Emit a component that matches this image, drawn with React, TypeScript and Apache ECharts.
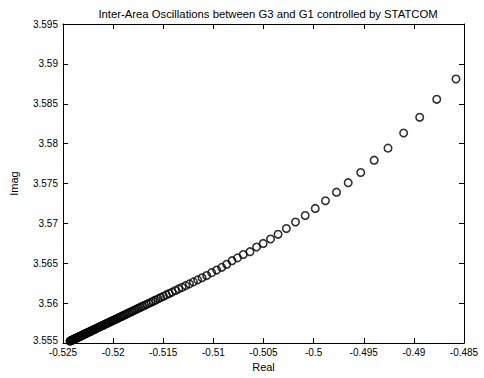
import React, { useEffect, useRef } from "react";
import * as echarts from "echarts";

const titleText = "Inter-Area Oscillations between G3 and G1 controlled by STATCOM";
const xName = "Real";
const yName = "Imag";

const realValues = [
  -0.48580, -0.48772, -0.48942, -0.49102, -0.49258, -0.49396, -0.49530, -0.49655, -0.49772,
  -0.49882, -0.49984, -0.50084, -0.50181, -0.50272, -0.50355, -0.50430, -0.50503, -0.50569,
  -0.50635, -0.50702, -0.50759, -0.50814, -0.50867, -0.50917, -0.50967, -0.51017, -0.51067,
  -0.51113, -0.51157, -0.51199, -0.51239, -0.51276, -0.51312, -0.51346, -0.51379, -0.51411,
  -0.51441, -0.51470, -0.51498, -0.51525, -0.51551, -0.51576, -0.51600, -0.51623, -0.51645,
  -0.51666, -0.51686, -0.51706, -0.51725, -0.51744, -0.51762, -0.51780, -0.51797, -0.51814,
  -0.51830, -0.51846, -0.51862, -0.51877, -0.51892, -0.51907, -0.51921, -0.51935, -0.51949,
  -0.51962, -0.51975, -0.51988, -0.52001, -0.52013, -0.52025, -0.52037, -0.52049, -0.52061,
  -0.52072, -0.52083, -0.52094, -0.52104, -0.52115, -0.52125, -0.52135, -0.52145, -0.52155,
  -0.52165, -0.52175, -0.52184, -0.52193, -0.52202, -0.52211, -0.52220, -0.52229, -0.52238,
  -0.52246, -0.52254, -0.52262, -0.52270, -0.52278, -0.52286, -0.52294, -0.52302, -0.52309,
  -0.52316, -0.52323, -0.52330, -0.52337, -0.52344, -0.52351, -0.52358, -0.52365, -0.52371,
  -0.52377, -0.52383, -0.52389, -0.52395, -0.52401, -0.52407, -0.52413, -0.52419, -0.52425,
  -0.52431,
];

const imagValues = [
  3.58810, 3.58556, 3.58330, 3.58133, 3.57943, 3.57792, 3.57638, 3.57510, 3.57391,
  3.57284, 3.57187, 3.57099, 3.57017, 3.56935, 3.56863, 3.56804, 3.56748, 3.56704,
  3.56645, 3.56610, 3.56568, 3.56532, 3.56487, 3.56449, 3.56415, 3.56382, 3.56346,
  3.56318, 3.56292, 3.56266, 3.56242, 3.56220, 3.56198, 3.56178, 3.56158, 3.56138,
  3.56120, 3.56103, 3.56086, 3.56070, 3.56054, 3.56039, 3.56024, 3.56010, 3.55997,
  3.55985, 3.55973, 3.55960, 3.55949, 3.55938, 3.55927, 3.55916, 3.55906, 3.55895,
  3.55886, 3.55876, 3.55866, 3.55857, 3.55848, 3.55839, 3.55831, 3.55822, 3.55814,
  3.55806, 3.55798, 3.55790, 3.55782, 3.55775, 3.55768, 3.55761, 3.55753, 3.55746,
  3.55740, 3.55733, 3.55726, 3.55720, 3.55714, 3.55708, 3.55702, 3.55696, 3.55690,
  3.55684, 3.55677, 3.55672, 3.55667, 3.55661, 3.55656, 3.55650, 3.55645, 3.55639,
  3.55635, 3.55630, 3.55625, 3.55620, 3.55615, 3.55611, 3.55606, 3.55601, 3.55597,
  3.55592, 3.55588, 3.55584, 3.55580, 3.55576, 3.55571, 3.55567, 3.55563, 3.55559,
  3.55556, 3.55552, 3.55548, 3.55545, 3.55541, 3.55537, 3.55534, 3.55530, 3.55527,
  3.55523,
];

const xMin = -0.525;
const xMax = -0.485;
const yMin = 3.555;
const yMax = 3.595;
const tickStep = 0.005;

const FONT = "'Liberation Sans', Arial, Helvetica, sans-serif";

const fmt = (v: number) => String(parseFloat(v.toFixed(3)));
const fmtY = (v: number) =>
  Math.abs(v - yMin) < 1e-9 ? `{lo|${fmt(v)}}` : fmt(v);

export default function App() {
  const ref = useRef<HTMLDivElement>(null);
  useEffect(() => {
    if (!ref.current) return;
    const chart = echarts.init(ref.current, undefined, { renderer: "svg" });
    const data = realValues.map((r, i) => [r, imagValues[i]]);
    const lineStyle = { color: "#000", width: 1 };
    const tick = { show: true, inside: true, length: 5, lineStyle };
    chart.setOption({
      animation: false,
      backgroundColor: "#fff",
      title: {
        text: titleText,
        left: 263,
        top: 3,
        textAlign: "center",
        textStyle: { fontFamily: FONT, fontSize: 11.3, fontWeight: "normal", color: "#000" },
      },
      grid: { left: 63, right: 20, top: 24, bottom: 35, containLabel: false },
      xAxis: [
        {
          type: "value",
          min: xMin,
          max: xMax,
          interval: tickStep,
          position: "bottom",
          name: xName,
          nameLocation: "middle",
          nameGap: 18,
          nameTextStyle: { fontFamily: FONT, fontSize: 11, color: "#000" },
          axisLine: { show: true, lineStyle },
          axisTick: tick,
          splitLine: { show: false },
          axisLabel: { fontFamily: FONT, fontSize: 10, color: "#000", margin: 4, formatter: fmt },
        },
        {
          type: "value",
          min: xMin,
          max: xMax,
          interval: tickStep,
          position: "top",
          axisLine: { show: true, lineStyle },
          axisTick: tick,
          splitLine: { show: false },
          axisLabel: { show: false },
        },
      ],
      yAxis: [
        {
          type: "value",
          min: yMin,
          max: yMax,
          interval: tickStep,
          position: "left",
          name: yName,
          nameLocation: "middle",
          nameGap: 44,
          nameTextStyle: { fontFamily: FONT, fontSize: 11, color: "#000" },
          axisLine: { show: true, lineStyle },
          axisTick: tick,
          splitLine: { show: false },
          axisLabel: {
            fontFamily: FONT,
            fontSize: 10,
            color: "#000",
            margin: 5,
            formatter: fmtY,
            rich: { lo: { fontFamily: FONT, fontSize: 10, color: "#000", lineHeight: 10, padding: [0, 0, 5, 0] } },
          },
        },
        {
          type: "value",
          min: yMin,
          max: yMax,
          interval: tickStep,
          position: "right",
          axisLine: { show: true, lineStyle },
          axisTick: tick,
          splitLine: { show: false },
          axisLabel: { show: false },
        },
      ],
      series: [
        {
          type: "scatter",
          xAxisIndex: 0,
          yAxisIndex: 0,
          data,
          symbol: "circle",
          symbolSize: 7.5,
          itemStyle: { color: "rgba(0,0,0,0)", borderColor: "#000", borderWidth: 1.6 },
          silent: true,
        },
      ],
    });
    return () => chart.dispose();
  }, []);
  return (
    <div
      ref={ref}
      style={{ position: "fixed", left: 0, top: 0, width: 484, height: 378, background: "#fff" }}
    />
  );
}
